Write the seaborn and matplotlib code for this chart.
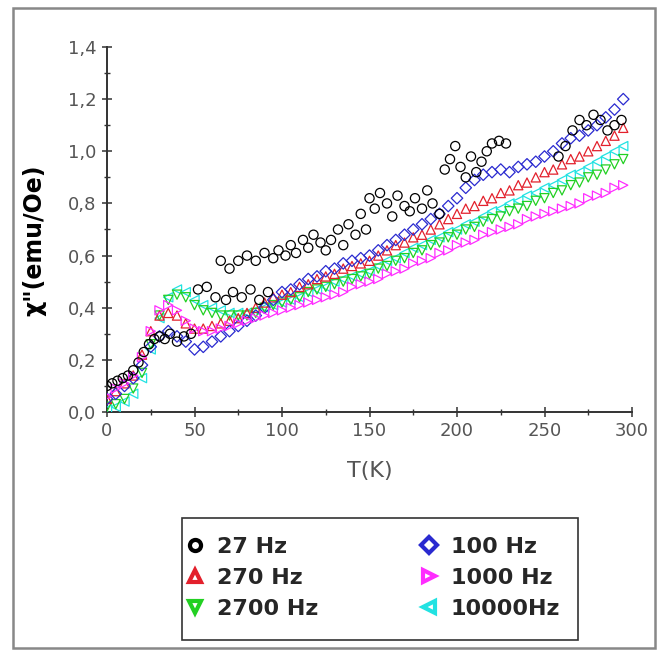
import numpy as np
import pandas as pd
import matplotlib
matplotlib.use('Agg')
import matplotlib.pyplot as plt
import seaborn as sns
from matplotlib.lines import Line2D
from matplotlib.patches import Rectangle
from matplotlib.ticker import FuncFormatter, MultipleLocator

#--------------------------------------------------
# temperature grid used for the frequency series (K)
temps = np.arange(0, 300, 5)

chi_100 = [0.05, 0.07, 0.10, 0.13, 0.18, 0.25, 0.29, 0.31, 0.29, 0.27,
           0.24, 0.25, 0.27, 0.29, 0.31, 0.33, 0.35, 0.37, 0.40, 0.43,
           0.46, 0.47, 0.49, 0.51, 0.52, 0.54, 0.55, 0.57, 0.58, 0.59,
           0.60, 0.62, 0.64, 0.66, 0.68, 0.70, 0.72, 0.74, 0.76, 0.79,
           0.82, 0.86, 0.89, 0.91, 0.92, 0.93, 0.92, 0.94, 0.95, 0.96,
           0.98, 1.00, 1.03, 1.05, 1.06, 1.08, 1.10, 1.13, 1.16, 1.20]

chi_270 = [0.05, 0.08, 0.11, 0.14, 0.22, 0.31, 0.37, 0.38, 0.37, 0.34,
           0.32, 0.32, 0.33, 0.34, 0.35, 0.36, 0.38, 0.40, 0.42, 0.44,
           0.45, 0.46, 0.48, 0.49, 0.51, 0.52, 0.53, 0.55, 0.56, 0.57,
           0.58, 0.60, 0.62, 0.64, 0.65, 0.67, 0.68, 0.70, 0.72, 0.74,
           0.76, 0.78, 0.79, 0.81, 0.82, 0.84, 0.85, 0.87, 0.88, 0.90,
           0.92, 0.93, 0.95, 0.97, 0.98, 1.00, 1.02, 1.04, 1.06, 1.09]

chi_2700 = [0.02, 0.03, 0.05, 0.09, 0.15, 0.26, 0.37, 0.43, 0.45, 0.44,
            0.41, 0.39, 0.38, 0.37, 0.37, 0.37, 0.37, 0.38, 0.40, 0.41,
            0.42, 0.43, 0.44, 0.46, 0.47, 0.48, 0.49, 0.50, 0.51, 0.52,
            0.53, 0.55, 0.56, 0.58, 0.59, 0.61, 0.62, 0.64, 0.65, 0.67,
            0.68, 0.70, 0.71, 0.73, 0.74, 0.75, 0.77, 0.78, 0.79, 0.81,
            0.82, 0.84, 0.85, 0.87, 0.88, 0.90, 0.91, 0.93, 0.95, 0.97]

chi_10000 = [0.01, 0.02, 0.04, 0.07, 0.13, 0.24, 0.36, 0.44, 0.47, 0.46,
             0.43, 0.41, 0.40, 0.39, 0.38, 0.38, 0.38, 0.39, 0.40, 0.41,
             0.42, 0.43, 0.44, 0.46, 0.47, 0.48, 0.50, 0.51, 0.52, 0.53,
             0.54, 0.56, 0.58, 0.59, 0.61, 0.63, 0.64, 0.66, 0.67, 0.69,
             0.70, 0.72, 0.73, 0.75, 0.77, 0.78, 0.80, 0.81, 0.83, 0.84,
             0.86, 0.87, 0.89, 0.91, 0.92, 0.94, 0.96, 0.98, 1.00, 1.02]

chi_1000 = [0.06, 0.09, 0.11, 0.14, 0.21, 0.31, 0.39, 0.41, 0.39, 0.35,
            0.32, 0.31, 0.31, 0.32, 0.33, 0.34, 0.35, 0.36, 0.37, 0.38,
            0.39, 0.40, 0.41, 0.42, 0.43, 0.44, 0.45, 0.46, 0.48, 0.49,
            0.50, 0.51, 0.53, 0.54, 0.55, 0.57, 0.58, 0.59, 0.61, 0.62,
            0.64, 0.65, 0.66, 0.68, 0.69, 0.70, 0.71, 0.72, 0.74, 0.75,
            0.76, 0.77, 0.78, 0.79, 0.80, 0.82, 0.83, 0.84, 0.86, 0.87]

# 27 Hz is noisy, read point by point
temps_27 = [0, 3, 6, 9, 12, 15, 18, 21, 24, 27, 30, 33, 36, 40, 44, 48,
            52, 57, 62, 65, 68, 70, 72, 75, 77, 80, 82, 85, 87, 90, 92, 95,
            98, 102, 105, 108, 112, 115, 118, 122, 125, 128, 132, 135, 138,
            142, 145, 148, 150, 153, 156, 160, 163, 166, 170, 173, 176, 180,
            183, 186, 190, 193, 196, 199, 202, 205, 208, 211, 214, 217, 220,
            224, 228, 258, 262, 266, 270, 274, 278, 282, 286, 290, 294]
chi_27 = [0.10, 0.11, 0.12, 0.13, 0.14, 0.16, 0.19, 0.23, 0.26, 0.28, 0.29,
          0.28, 0.30, 0.27, 0.29, 0.30,
          0.47, 0.48, 0.44, 0.58, 0.43, 0.55, 0.46, 0.58, 0.44, 0.60, 0.47,
          0.58, 0.43, 0.61, 0.46, 0.59,
          0.62, 0.60, 0.64, 0.61, 0.66, 0.63, 0.68, 0.65, 0.62, 0.66, 0.70,
          0.64, 0.72, 0.68, 0.76, 0.70, 0.82, 0.78, 0.84, 0.80, 0.75, 0.83,
          0.79, 0.77, 0.82, 0.78, 0.85, 0.80, 0.76, 0.93, 0.97, 1.02, 0.94,
          0.90, 0.98, 0.92, 0.96, 1.00, 1.03, 1.04, 1.03,
          0.98, 1.02, 1.08, 1.12, 1.10, 1.14, 1.12, 1.08, 1.10, 1.12]

labels = ['27 Hz', '270 Hz', '2700 Hz', '100 Hz', '1000 Hz', '10000Hz']
colors = ['black', '#e3202c', '#22d022', '#2a2ad0', '#ff2cff', '#22e2e2']
markers = ['o', '^', 'v', 'D', '>', '<']


#--------------------------------------------------
def main():
    sns.set_style('ticks')
    plt.rcParams['font.family'] = ['DejaVu Sans']

    W, H = 658, 650
    fig = plt.figure(figsize=(W / 100, H / 100), dpi=100)
    ax = fig.add_axes([107 / W, 1 - 412 / H, 525 / W, 365 / H])

    series = {
        '10000Hz': (temps, chi_10000),
        '2700 Hz': (temps, chi_2700),
        '270 Hz': (temps, chi_270),
        '100 Hz': (temps, chi_100),
        '1000 Hz': (temps, chi_1000),
        '27 Hz': (temps_27, chi_27),
    }
    for name, (tt, yy) in series.items():
        i = labels.index(name)
        df = pd.DataFrame({'T': tt, 'chi': yy})
        size = 34 if markers[i] == 'D' else 44
        sns.scatterplot(data=df, x='T', y='chi', ax=ax, marker=markers[i],
                        s=size, facecolors='none', edgecolor=colors[i],
                        linewidth=0.9, legend=False, zorder=3)

    ax.set_xlim(0, 300)
    ax.set_ylim(0, 1.4)
    ax.xaxis.set_major_locator(MultipleLocator(50))
    ax.xaxis.set_minor_locator(MultipleLocator(25))
    ax.yaxis.set_major_locator(MultipleLocator(0.2))
    ax.yaxis.set_minor_locator(MultipleLocator(0.1))
    ax.yaxis.set_major_formatter(FuncFormatter(lambda v, p: f'{v:.1f}'.replace('.', ',')))
    ax.tick_params(which='major', direction='inout', length=7, width=1.1,
                   color='#333333', labelsize=13, labelcolor='#555555', pad=4)
    ax.tick_params(which='minor', direction='inout', length=5, width=1.0,
                   color='#333333')
    sns.despine(ax=ax)
    for s in ['left', 'bottom']:
        ax.spines[s].set_linewidth(1.4)
        ax.spines[s].set_color('#333333')

    ax.set_xlabel('T(K)', fontsize=16, color='#555555')
    ax.xaxis.set_label_coords(0.5, -0.135)
    ax.set_ylabel('χ"(emu/Oe)', fontsize=17, fontweight='bold', color='black')
    ax.yaxis.set_label_coords(-0.115, 0.47)

    # legend
    handles = [Line2D([], [], linestyle='none', marker=markers[i], markersize=8,
                      markerfacecolor='white', markeredgecolor=colors[i],
                      markeredgewidth=3.0) for i in range(len(labels))]
    fig.legend(handles, labels, ncol=2, frameon=False,
               loc='upper left', bbox_to_anchor=(185 / W, 1 - 537 / H),
               borderaxespad=0, borderpad=0,
               prop={'weight': 'bold', 'size': 16},
               handlelength=0.9, handletextpad=0.55, labelspacing=0.5,
               columnspacing=4.5)
    fig.patches.append(Rectangle((182 / W, 1 - 640 / H), 396 / W, 122 / H,
                                 transform=fig.transFigure, fill=False,
                                 edgecolor='#333333', linewidth=1.2))
    # outer frame around the whole picture
    fig.patches.append(Rectangle((13 / W, 1 - 648 / H), 642 / W, 640 / H,
                                 transform=fig.transFigure, fill=False,
                                 edgecolor='#888888', linewidth=1.8))

    fig.savefig('out.png', dpi=100)


#--------------------------------------------------
if __name__ == '__main__':
    main()
